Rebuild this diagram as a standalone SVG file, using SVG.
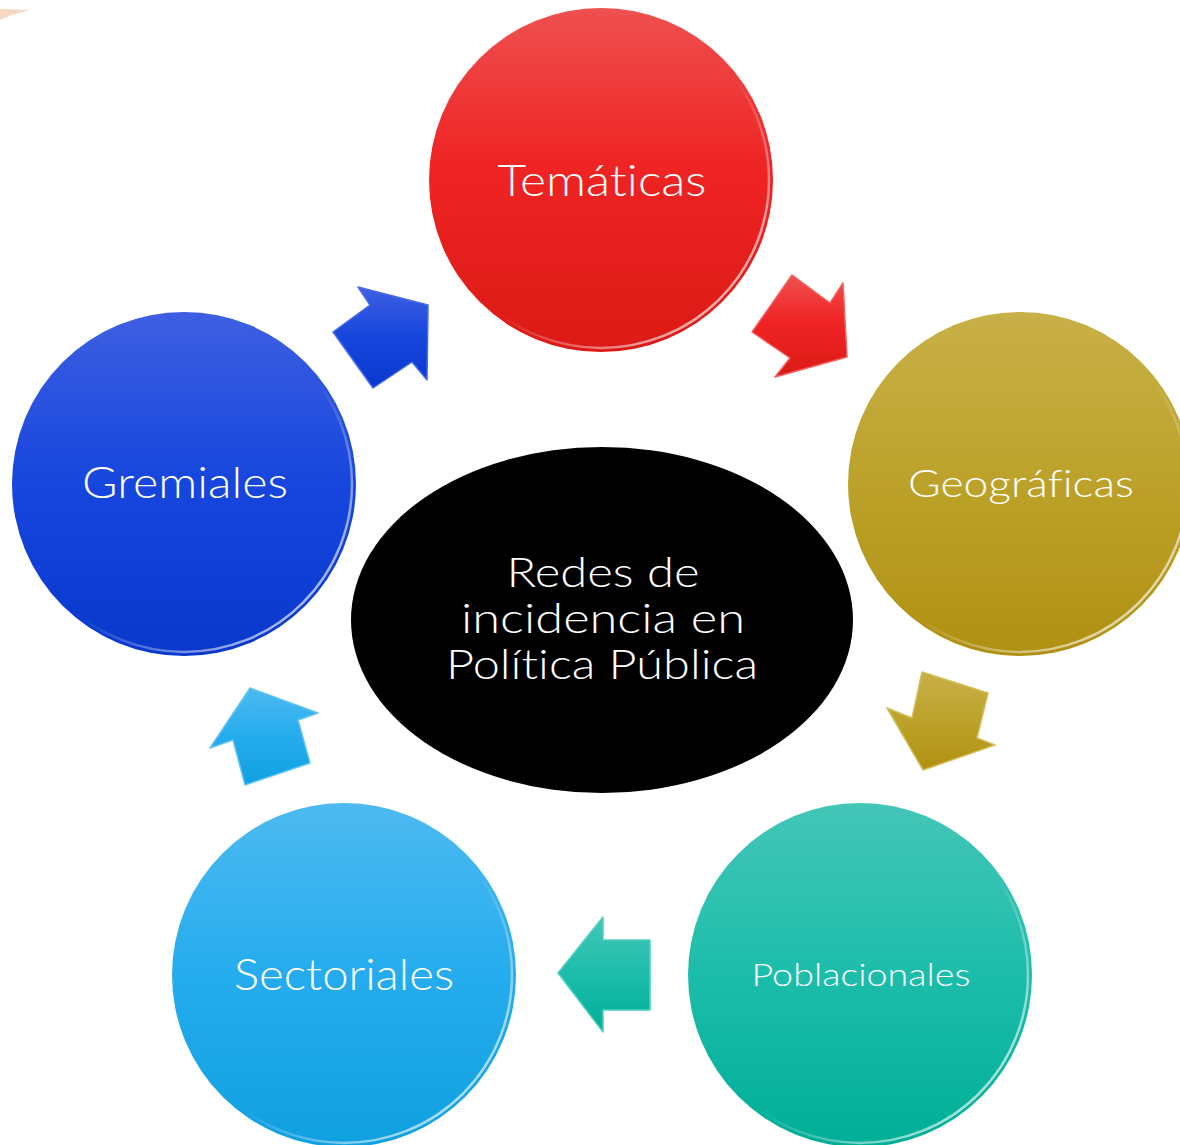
<svg xmlns="http://www.w3.org/2000/svg" width="1180" height="1145" viewBox="0 0 1180 1145">
<defs>
<linearGradient id="gRed" x1="0" y1="0" x2="0" y2="1"><stop offset="0" stop-color="#EF5050"/><stop offset="0.45" stop-color="#EF2424"/><stop offset="1" stop-color="#DB1A15"/></linearGradient>
<linearGradient id="gGold" x1="0" y1="0" x2="0" y2="1"><stop offset="0" stop-color="#C8B048"/><stop offset="0.5" stop-color="#BCA22A"/><stop offset="1" stop-color="#B09012"/></linearGradient>
<linearGradient id="gBlue" x1="0" y1="0" x2="0" y2="1"><stop offset="0" stop-color="#3E5FE2"/><stop offset="0.5" stop-color="#1646DD"/><stop offset="1" stop-color="#0838CC"/></linearGradient>
<linearGradient id="gSky" x1="0" y1="0" x2="0" y2="1"><stop offset="0" stop-color="#4DBAF0"/><stop offset="0.5" stop-color="#25ACEE"/><stop offset="1" stop-color="#10A0DF"/></linearGradient>
<linearGradient id="gTeal" x1="0" y1="0" x2="0" y2="1"><stop offset="0" stop-color="#44C6B8"/><stop offset="0.5" stop-color="#1CBDAA"/><stop offset="1" stop-color="#00AE96"/></linearGradient>
<linearGradient id="rim" x1="0" y1="0" x2="1" y2="1"><stop offset="0" stop-color="#fff" stop-opacity="0"/><stop offset="0.55" stop-color="#fff" stop-opacity="0"/><stop offset="0.8" stop-color="#fff" stop-opacity="0.55"/><stop offset="1" stop-color="#fff" stop-opacity="0.85"/></linearGradient>
<style>
.lbl{font-family:"Century Gothic","URW Gothic","Lato","Open Sans","DejaVu Sans",sans-serif;font-weight:300;font-variant-ligatures:none;fill:#fff;text-anchor:middle}
.rim{fill:none;stroke:url(#rim);stroke-width:2.5}
.arr{stroke-width:1.5;stroke-linejoin:round}
</style>
</defs>
<path d="M0,9 L30,10 Q12,14 0,20 Z" fill="#F6D8C0"/>
<g id="connectors">
<polygon class="arr" points="792,275 830,303 843,283 847,357 775,377 790,358 752,332" fill="url(#gRed)" stroke="#F36060"/>
<polygon class="arr" points="922,672 988,693 977,738 995,745 923,770 887,708 912,718" fill="url(#gGold)" stroke="#D2BE5A"/>
<polygon class="arr" points="558,973 603,917 603,940 650,940 650,1010 603,1010 603,1032" fill="url(#gTeal)" stroke="#50D0C2"/>
<polygon class="arr" points="245,785 310,763 298,720 318,713 250,688 210,748 233,740" fill="url(#gSky)" stroke="#60C4F2"/>
<polygon class="arr" points="333,332 370,305 358,287 428,305 427,380 412,362 373,388" fill="url(#gBlue)" stroke="#4A6AE6"/>
</g>
<g id="tematicas">
<circle cx="601" cy="180" r="172" fill="url(#gRed)"/>
<circle class="rim" cx="601" cy="180" r="168"/>
<text class="lbl" x="602" y="196" font-size="44" textLength="209" lengthAdjust="spacingAndGlyphs">Temáticas</text>
</g>
<g id="geograficas">
<circle cx="1020" cy="484" r="172" fill="url(#gGold)"/>
<circle class="rim" cx="1020" cy="484" r="168"/>
<text class="lbl" x="1021" y="497" font-size="38" textLength="226" lengthAdjust="spacingAndGlyphs">Geográficas</text>
</g>
<g id="gremiales">
<circle cx="184" cy="484" r="172" fill="url(#gBlue)"/>
<circle class="rim" cx="184" cy="484" r="168"/>
<text class="lbl" x="185" y="498" font-size="44" textLength="206" lengthAdjust="spacingAndGlyphs">Gremiales</text>
</g>
<g id="sectoriales">
<circle cx="344" cy="975" r="172" fill="url(#gSky)"/>
<circle class="rim" cx="344" cy="975" r="168"/>
<text class="lbl" x="344" y="990" font-size="44" textLength="220" lengthAdjust="spacingAndGlyphs">Sectoriales</text>
</g>
<g id="poblacionales">
<circle cx="860" cy="975" r="172" fill="url(#gTeal)"/>
<circle class="rim" cx="860" cy="975" r="168"/>
<text class="lbl" x="861" y="986" font-size="31" textLength="219" lengthAdjust="spacingAndGlyphs">Poblacionales</text>
</g>
<g id="centro">
<ellipse cx="602" cy="620" rx="251" ry="173" fill="#000"/>
<text class="lbl" x="603" y="587" font-size="41" textLength="193" lengthAdjust="spacingAndGlyphs">Redes de</text>
<text class="lbl" x="603" y="633" font-size="41" textLength="284" lengthAdjust="spacingAndGlyphs">incidencia en</text>
<text class="lbl" x="602" y="679" font-size="41" textLength="312" lengthAdjust="spacingAndGlyphs">Política Pública</text>
</g>
</svg>
